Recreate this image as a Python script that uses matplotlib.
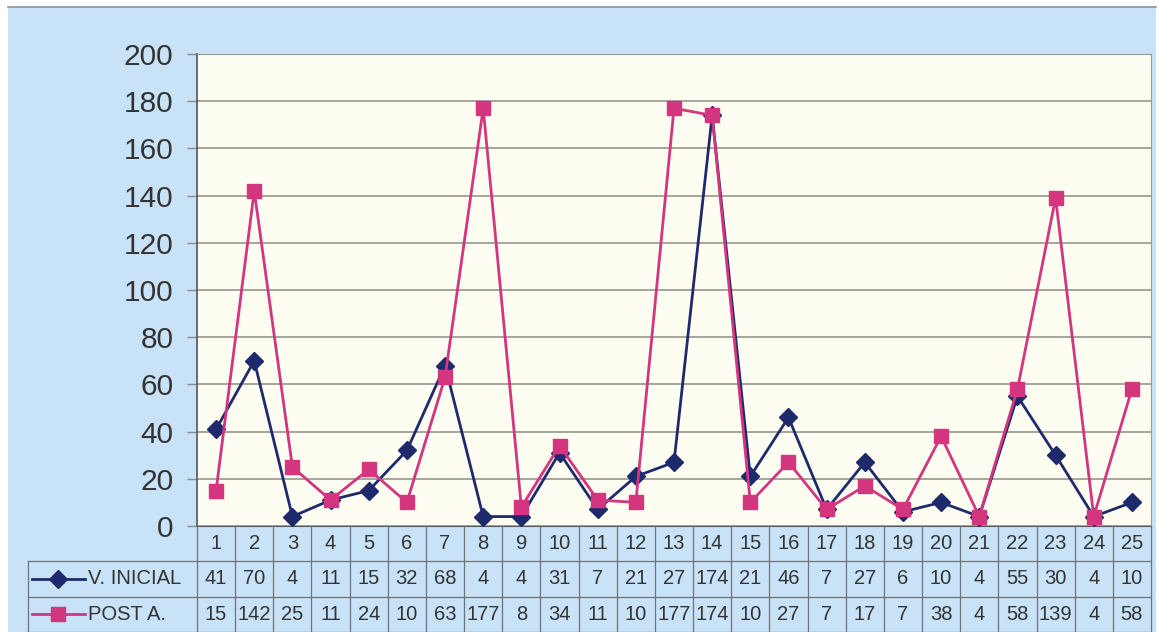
import matplotlib
matplotlib.use("Agg")
import matplotlib.pyplot as plt
from matplotlib.patches import Rectangle
from matplotlib.lines import Line2D

plt.rcParams['font.family'] = ['Liberation Sans', 'DejaVu Sans']

categories = [str(i) for i in range(1, 26)]
v_inicial = [41, 70, 4, 11, 15, 32, 68, 4, 4, 31, 7, 21, 27, 174, 21, 46, 7, 27, 6, 10, 4, 55, 30, 4, 10]
post_a = [15, 142, 25, 11, 24, 10, 63, 177, 8, 34, 11, 10, 177, 174, 10, 27, 7, 17, 7, 38, 4, 58, 139, 4, 58]
series_names = ["V. INICIAL", "POST A."]
y_ticks = [0, 20, 40, 60, 80, 100, 120, 140, 160, 180, 200]

W, H = 1159, 632
BLUE_BG = "#C8E2F7"
PLOT_BG = "#FDFDF1"
NAVY = "#1F2A6C"
PINK = "#D4357F"
TXT = "#333333"
GRID = "#8E8E86"

fig = plt.figure(figsize=(W / 100, H / 100), dpi=100, facecolor="white")
fig.patches.append(Rectangle((8 / W, 0), (1156 - 8) / W, (H - 7) / H,
                             transform=fig.transFigure, facecolor=BLUE_BG,
                             edgecolor="none", zorder=-10))
fig.lines.append(Line2D([8 / W, 1156 / W], [(H - 7) / H, (H - 7) / H],
                        transform=fig.transFigure, color="#8A949C", linewidth=1.2, zorder=-9))

L, R, T, B = 197, 1151, 54, 526
ax = fig.add_axes([L / W, (H - B) / H, (R - L) / W, (B - T) / H])
ax.set_facecolor(PLOT_BG)
n = len(categories)
xs = list(range(1, n + 1))
ax.set_xlim(0.5, n + 0.5)
ax.set_ylim(0, 200)
ax.set_yticks(y_ticks)
ax.set_yticklabels([str(t) for t in y_ticks], fontsize=21.5, color=TXT)
ax.tick_params(axis='y', length=7, width=1, color=GRID, pad=10)
ax.set_xticks([])
ax.grid(axis='y', color=GRID, linewidth=1.1)
ax.set_axisbelow(True)
for s in ["top", "right"]:
    ax.spines[s].set_color("#9A9A92")
ax.spines["left"].set_color("#55565A")
ax.spines["bottom"].set_color("#55565A")
ax.spines["left"].set_linewidth(1.2)

ax.plot(xs, v_inicial, color=NAVY, linewidth=2, marker="D", markersize=9.5,
        markerfacecolor=NAVY, markeredgecolor=NAVY, zorder=3, clip_on=False)
ax.plot(xs, post_a, color=PINK, linewidth=2, marker="s", markersize=10.5,
        markerfacecolor=PINK, markeredgecolor=PINK, zorder=4, clip_on=False)

# data table
TL = 28
tab = fig.add_axes([TL / W, 0, (R - TL) / W, (H - B) / H])
tab.set_facecolor("none")
colw = (R - L) / n
x_left = 0.5 - (L - TL) / colw
tab.set_xlim(x_left, n + 0.5)
tab.set_ylim(3, 0)
tab.axis("off")
lc = "#6F7378"
for i in range(n + 1):
    tab.plot([i + 0.5, i + 0.5], [0, 3], color=lc, linewidth=0.9, clip_on=False)
for yv in [1, 2, 3]:
    tab.plot([x_left, n + 0.5], [yv, yv], color=lc, linewidth=0.9, clip_on=False)
tab.plot([x_left, x_left], [1, 3], color=lc, linewidth=0.9, clip_on=False)

for i, c in enumerate(categories):
    tab.text(i + 1, 0.5, c, ha="center", va="center", fontsize=14.5, color=TXT)
for row, vals in enumerate([v_inicial, post_a]):
    for i, v in enumerate(vals):
        tab.text(i + 1, row + 1.5, str(v), ha="center", va="center", fontsize=14.5, color=TXT)

def px2x(px):
    return 0.5 - (L - px) / colw

styles = [(NAVY, "D", 9.5), (PINK, "s", 10.5)]
for row, (name, (col, mk, ms)) in enumerate(zip(series_names, styles)):
    yc = row + 1.5
    tab.add_line(Line2D([px2x(32), px2x(85)], [yc, yc], color=col, linewidth=2))
    tab.add_line(Line2D([px2x(58)], [yc], color=col, marker=mk, markersize=ms,
                        markerfacecolor=col, markeredgecolor=col))
    tab.text(px2x(88), yc, name, ha="left", va="center", fontsize=14.5, color=TXT)

fig.savefig("out.png", dpi=100, facecolor=fig.get_facecolor())
